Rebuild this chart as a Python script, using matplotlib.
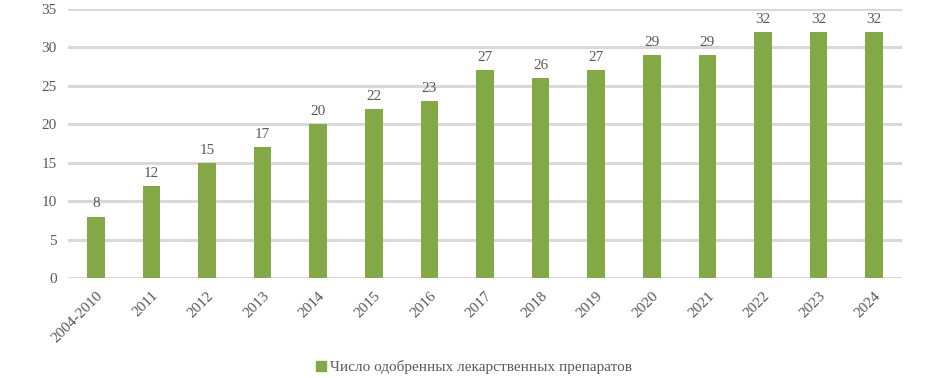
import matplotlib
matplotlib.use('Agg')
import matplotlib.pyplot as plt
from matplotlib.lines import Line2D

plt.rcParams['font.family'] = ['Liberation Serif', 'DejaVu Serif']

# данные
years = ['2004-2010', '2011', '2012', '2013', '2014', '2015', '2016', '2017',
         '2018', '2019', '2020', '2021', '2022', '2023', '2024']
approved = [8, 12, 15, 17, 20, 22, 23, 27, 26, 27, 29, 29, 32, 32, 32]
series_name = 'Число одобренных лекарственных препаратов'

bar_color = '#83A846'
text_color = '#595959'
grid_color = '#D9D9D9'

fig = plt.figure(figsize=(9.45, 3.78), dpi=100)
ax = fig.add_axes([68 / 945, 1 - 278 / 378, (902 - 68) / 945, (278 - 9) / 378])

x = range(len(years))
bars = ax.bar(x, approved, width=0.32, color=bar_color, zorder=3)

for b, v in zip(bars, approved):
    ax.text(b.get_x() + b.get_width() / 2, v + 0.8, str(v),
            ha='center', va='bottom', fontsize=11, color=text_color)

ax.set_xlim(-0.5, len(years) - 0.5)
ax.set_ylim(0, 35)
ax.set_yticks(range(0, 36, 5))
ax.yaxis.grid(True, color=grid_color, linewidth=2.2, zorder=0)
ax.set_axisbelow(True)
for s in ax.spines.values():
    s.set_visible(False)

ax.set_xticks(list(x))
ax.set_xticklabels(years, rotation=45, ha='right', rotation_mode='anchor')
ax.tick_params(axis='both', length=0, labelsize=11, labelcolor=text_color)
ax.tick_params(axis='x', pad=8)
ax.tick_params(axis='y', pad=8)

handle = Line2D([], [], marker='s', linestyle='none', markersize=7,
                markerfacecolor=bar_color, markeredgecolor=bar_color)
fig.legend([handle], [series_name], loc='center', bbox_to_anchor=(0.5, 1 - 367 / 378),
           frameon=False, fontsize=11, labelcolor=text_color,
           handletextpad=0.1, handlelength=1.0)

fig.savefig('out.png', dpi=100, facecolor='white')
